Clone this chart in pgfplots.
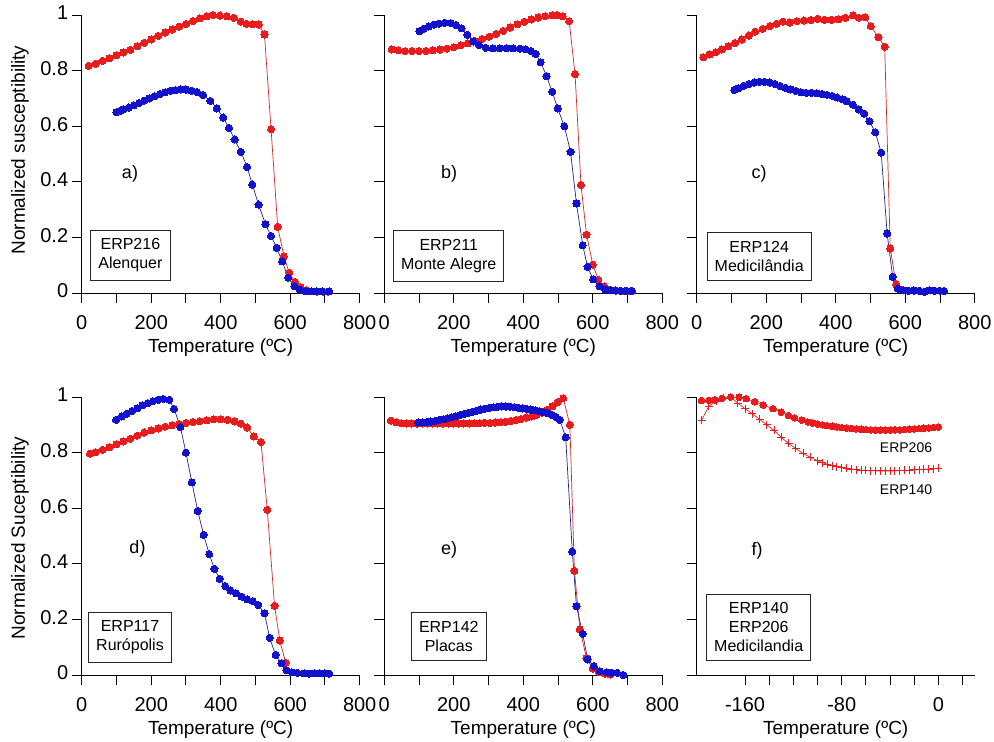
\documentclass[border=0pt]{standalone}
\usepackage{fontspec}
\setmainfont{Liberation Sans}
\usepackage{pgfplots}
\pgfplotsset{compat=1.18}

\definecolor{myred}{RGB}{232,28,28}
\definecolor{myblue}{RGB}{18,18,205}
\definecolor{redline}{RGB}{205,40,40}
\definecolor{blueline}{RGB}{35,35,140}

\pgfplotsset{
  panel/.style={
    anchor=south west,
    scale only axis, width=278pt, height=278pt,
    axis x line=bottom, axis y line=left,
    axis line style={-, line width=0.9pt, black},
    xmin=0, xmax=800, ymin=0, ymax=1,
    xtick={0,200,400,600,800}, minor xtick={100,300,500,700},
    ytick={0,0.2,0.4,0.6,0.8,1},
    tick align=outside, major tick length=10pt, minor tick length=10pt,
    every tick/.style={black, line width=0.9pt},
    every minor tick/.style={black, line width=0.9pt},
    clip=false,
    /pgf/number format/assume math mode=true,
    tick label style={font=\fontsize{20}{24}\selectfont},
    xticklabel style={anchor=base, yshift=-26pt},
    yticklabel style={anchor=east, xshift=0pt, yshift=2pt},
  },
  noylab/.style={yticklabels={}},
  redser/.style={color=redline, line width=0.7pt, mark=*, mark size=3.6pt,
    mark options={fill=myred, draw=myred, line width=0pt}},
  blueser/.style={color=blueline, line width=0.7pt, mark=*, mark size=3.6pt,
    mark options={fill=myblue, draw=myblue, line width=0pt}},
}

\newcommand{\boxfont}{\fontsize{16}{19}\selectfont}
\newcommand{\labfont}{\fontsize{19}{23}\selectfont}
\newcommand{\letfont}{\fontsize{18}{22}\selectfont}

\begin{document}
\begin{tikzpicture}[x=1pt,y=1pt]

% ---------- a) ----------
\begin{axis}[panel, at={(81.7pt,-293pt)}]
\addplot[redser] coordinates {(20,0.817)(40,0.825)(60,0.835)(80,0.845)(100,0.855)(120,0.865)(140,0.875)(160,0.888)(180,0.900)(200,0.912)(220,0.925)(240,0.937)(260,0.948)(280,0.958)(300,0.968)(320,0.978)(340,0.988)(360,0.995)(378,1.000)(398,0.998)(418,0.995)(438,0.990)(458,0.976)(474,0.968)(492,0.967)(510,0.966)(526,0.930)(545,0.589)(564,0.238)(582,0.132)(597,0.073)(614,0.040)(630,0.020)(646,0.010)(662,0.006)(678,0.005)(694,0.005)(710,0.005)};
\addplot[blueser] coordinates {(100,0.650)(110,0.655)(120,0.660)(135,0.667)(150,0.675)(165,0.683)(180,0.692)(195,0.700)(210,0.708)(225,0.716)(240,0.722)(255,0.727)(270,0.730)(285,0.732)(300,0.732)(316,0.728)(332,0.723)(349,0.712)(370,0.691)(389,0.664)(407,0.631)(424,0.594)(440,0.552)(458,0.508)(476,0.453)(491,0.390)(509,0.318)(529,0.247)(545,0.205)(561,0.163)(577,0.114)(594,0.055)(612,0.024)(628,0.012)(644,0.007)(660,0.006)(676,0.006)(692,0.006)(712,0.006)};
\end{axis}

% ---------- b) ----------
\begin{axis}[panel, noylab, at={(384.3pt,-293pt)}]
\addplot[redser] coordinates {(21,0.876)(40,0.873)(60,0.870)(80,0.870)(100,0.870)(120,0.871)(140,0.873)(160,0.876)(180,0.879)(200,0.884)(220,0.891)(240,0.898)(261,0.906)(281,0.914)(302,0.922)(322,0.932)(342,0.943)(362,0.955)(383,0.967)(403,0.976)(423,0.984)(443,0.991)(463,0.996)(483,0.999)(496,1.000)(513,0.996)(532,0.978)(549,0.787)(566,0.388)(582,0.210)(600,0.102)(616,0.048)(633,0.024)(650,0.012)(667,0.008)(684,0.006)(700,0.006)(712,0.006)};
\addplot[blueser] coordinates {(101,0.942)(114,0.951)(128,0.959)(143,0.965)(158,0.969)(174,0.972)(191,0.971)(206,0.964)(222,0.952)(239,0.929)(256,0.905)(273,0.892)(292,0.882)(312,0.880)(332,0.880)(352,0.880)(371,0.880)(390,0.879)(406,0.877)(422,0.870)(435,0.860)(450,0.830)(467,0.780)(483,0.724)(499,0.664)(518,0.600)(536,0.508)(553,0.322)(571,0.172)(585,0.094)(601,0.049)(619,0.024)(635,0.013)(650,0.010)(665,0.009)(680,0.008)(695,0.008)(712,0.008)};
\end{axis}

% ---------- c) ----------
\begin{axis}[panel, noylab, at={(696.7pt,-293pt)}]
\addplot[redser] coordinates {(19,0.848)(37,0.858)(55,0.866)(72,0.876)(91,0.888)(110,0.899)(130,0.912)(150,0.926)(168,0.940)(190,0.950)(211,0.960)(230,0.968)(248,0.976)(268,0.973)(288,0.978)(308,0.980)(328,0.982)(348,0.986)(368,0.983)(388,0.983)(408,0.985)(428,0.990)(450,0.999)(467,0.990)(485,0.992)(501,0.960)(523,0.920)(541,0.886)(557,0.160)(574,0.031)(590,0.012)};
\addplot[blueser] coordinates {(108,0.730)(120,0.737)(135,0.745)(150,0.752)(165,0.757)(180,0.760)(195,0.760)(210,0.757)(225,0.752)(240,0.745)(255,0.738)(270,0.732)(285,0.727)(300,0.722)(315,0.720)(330,0.720)(345,0.718)(360,0.716)(375,0.713)(390,0.709)(405,0.703)(420,0.697)(432,0.690)(450,0.677)(466,0.660)(482,0.645)(497,0.618)(514,0.578)(531,0.505)(548,0.214)(564,0.058)(579,0.016)(595,0.010)(610,0.008)(625,0.009)(640,0.008)(655,0.004)(670,0.010)(685,0.008)(700,0.008)(712,0.007)};
\end{axis}

% ---------- d) ----------
\begin{axis}[panel, at={(81.7pt,-675pt)}]
\addplot[redser] coordinates {(24,0.796)(40,0.801)(60,0.810)(80,0.820)(100,0.830)(120,0.840)(140,0.850)(160,0.861)(180,0.872)(200,0.880)(220,0.887)(240,0.893)(260,0.898)(280,0.903)(300,0.907)(320,0.910)(340,0.913)(360,0.916)(380,0.920)(400,0.920)(420,0.918)(440,0.912)(458,0.904)(476,0.890)(495,0.858)(516,0.838)(534,0.594)(555,0.249)(570,0.124)(587,0.044)};
\addplot[blueser] coordinates {(99,0.918)(115,0.930)(130,0.940)(145,0.950)(160,0.960)(175,0.970)(190,0.978)(205,0.985)(220,0.990)(235,0.993)(252,0.990)(266,0.957)(284,0.892)(300,0.800)(317,0.693)(334,0.590)(351,0.504)(367,0.435)(382,0.382)(397,0.346)(413,0.320)(428,0.304)(444,0.294)(460,0.282)(476,0.272)(492,0.266)(508,0.252)(526,0.222)(541,0.134)(558,0.072)(575,0.042)(589,0.018)(605,0.010)(620,0.008)(640,0.006)(655,0.005)(670,0.006)(685,0.006)(700,0.006)(712,0.005)};
\end{axis}

% ---------- e) ----------
\begin{axis}[panel, noylab, at={(384.3pt,-675pt)}]
\addplot[redser] coordinates {(19,0.915)(34,0.909)(49,0.906)(64,0.905)(79,0.905)(94,0.905)(109,0.905)(124,0.905)(139,0.905)(154,0.905)(169,0.905)(184,0.905)(199,0.905)(214,0.905)(229,0.905)(244,0.905)(259,0.906)(274,0.906)(289,0.907)(304,0.907)(319,0.908)(334,0.909)(349,0.911)(364,0.914)(379,0.917)(394,0.921)(409,0.926)(424,0.930)(439,0.936)(454,0.944)(469,0.954)(484,0.967)(499,0.982)(515,0.996)(534,0.900)(547,0.375)(563,0.164)(582,0.060)(600,0.023)(618,0.010)(635,0.005)(650,0.002)};
\addplot[blueser] coordinates {(98,0.908)(110,0.909)(122,0.910)(134,0.912)(146,0.914)(158,0.917)(170,0.920)(182,0.923)(194,0.927)(206,0.931)(218,0.935)(230,0.939)(242,0.943)(254,0.947)(266,0.951)(278,0.955)(290,0.958)(302,0.961)(314,0.963)(326,0.965)(338,0.966)(350,0.966)(362,0.965)(374,0.963)(386,0.961)(398,0.959)(410,0.957)(422,0.955)(434,0.952)(446,0.949)(458,0.946)(470,0.942)(482,0.936)(494,0.928)(505,0.918)(522,0.855)(541,0.444)(553,0.248)(571,0.148)(585,0.056)(603,0.032)(620,0.014)(640,0.010)(655,0.008)(670,0.008)(688,0.000)};
\end{axis}

% ---------- f) ----------
\begin{axis}[panel, noylab, at={(696.7pt,-675pt)}, xmin=-200, xmax=30,
  xtick={-160,-80,0}, minor xtick={-140,-120,-100,-60,-40,-20,20}]
\addplot[color=redline, line width=0.7pt, mark=*, mark size=3.3pt,
  mark options={fill=myred, draw=myred, line width=0pt}] coordinates {(-196,0.988)(-190,0.988)(-185,0.990)(-179,0.995)(-172,1.000)(-165,0.999)(-159,0.994)(-152,0.983)(-145,0.971)(-137,0.958)(-130,0.945)(-124,0.934)(-119,0.925)(-113,0.917)(-108,0.910)(-104,0.906)(-100,0.903)(-96,0.900)(-92,0.897)(-88,0.895)(-84,0.892)(-80,0.890)(-76,0.888)(-72,0.887)(-68,0.885)(-64,0.884)(-60,0.883)(-56,0.882)(-52,0.881)(-48,0.881)(-44,0.881)(-40,0.881)(-36,0.882)(-32,0.882)(-28,0.883)(-24,0.884)(-20,0.885)(-16,0.886)(-12,0.888)(-8,0.889)(-4,0.890)(0,0.892)};
\addplot[color=redline, line width=0.7pt, mark=+, mark size=4pt,
  mark options={draw=myred, line width=1pt}] coordinates {(-196,0.916)(-190,0.966)(-184,0.985)(-178,0.995)(-172,1.000)(-166,0.978)(-160,0.958)(-154,0.940)(-148,0.920)(-142,0.900)(-136,0.880)(-130,0.855)(-124,0.833)(-118,0.815)(-112,0.797)(-106,0.783)(-100,0.771)(-96,0.764)(-92,0.758)(-88,0.753)(-84,0.749)(-80,0.746)(-76,0.743)(-72,0.741)(-68,0.739)(-64,0.737)(-60,0.736)(-56,0.735)(-52,0.734)(-48,0.734)(-44,0.734)(-40,0.734)(-36,0.734)(-32,0.735)(-28,0.736)(-24,0.737)(-20,0.738)(-16,0.739)(-12,0.740)(-8,0.741)(-4,0.742)(0,0.744)};
\end{axis}

% ---------- labels ----------
\node[rotate=90, font=\labfont] at (20,-150) {Normalized susceptibility};
\node[rotate=90, font=\labfont] at (20,-538) {Normalized Suceptibility};
\foreach \cx in {220.7,523.3,835.7}{
  \node[anchor=base, font=\labfont] at (\cx,-352) {Temperature (ºC)};
  \node[anchor=base, font=\labfont] at (\cx,-734) {Temperature (ºC)};
}
\node[font=\letfont] at (130,-174) {a)};
\node[font=\letfont] at (449,-174) {b)};
\node[font=\letfont] at (759,-174) {c)};
\node[font=\letfont] at (137.5,-549) {d)};
\node[font=\letfont] at (449,-550) {e)};
\node[font=\letfont] at (757,-551) {f)};

\tikzset{lbox/.style={draw=black!85, line width=0.8pt, align=center, font=\boxfont, inner xsep=7.5pt, inner ysep=8.5pt}}
\node[lbox] at (130.4,-255.4) {ERP216\\Alenquer};
\node[lbox] at (448.7,-255.8) {ERP211\\Monte Alegre};
\node[lbox] at (759.2,-256.5) {ERP124\\Medicilândia};
\node[lbox] at (130,-637.5) {ERP117\\Rurópolis};
\node[lbox] at (448.8,-636.5) {ERP142\\Placas};
\node[lbox] at (758.7,-627.3) {ERP140\\ERP206\\Medicilandia};

\node[font=\fontsize{14}{17}\selectfont] at (906,-448) {ERP206};
\node[font=\fontsize{14}{17}\selectfont] at (906,-490) {ERP140};

\pgfresetboundingbox
\useasboundingbox (0,0) rectangle (994,-742);
\end{tikzpicture}
\end{document}
